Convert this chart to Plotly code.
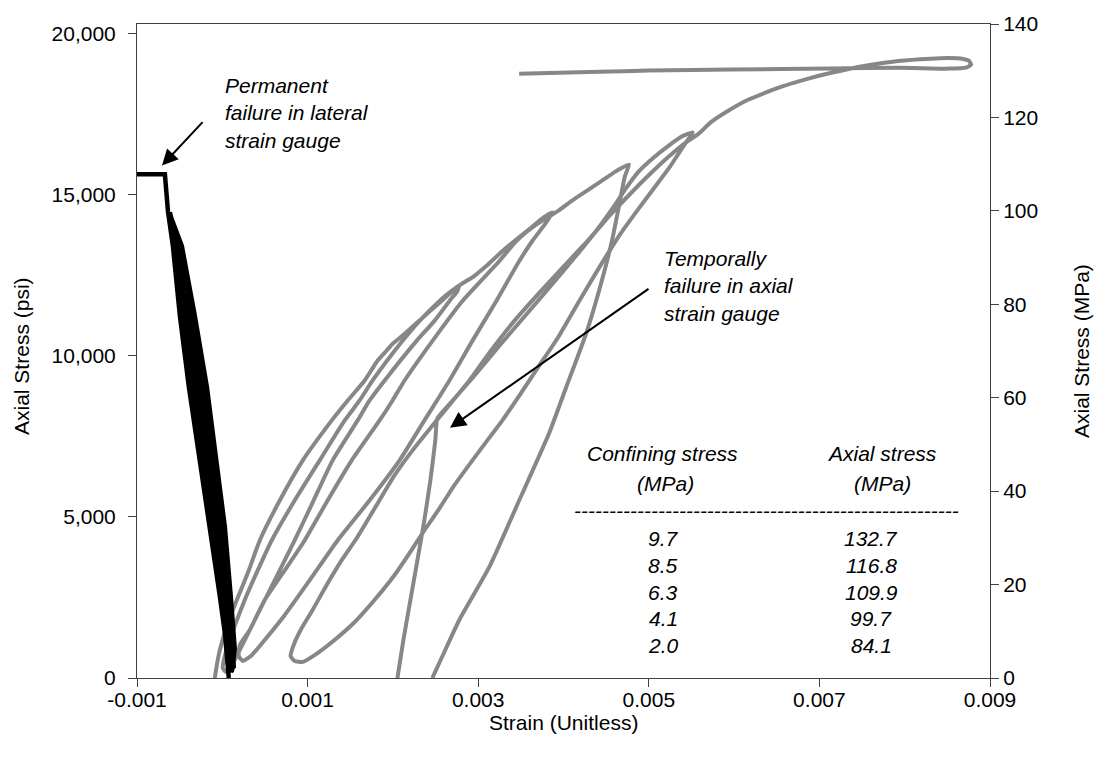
import plotly.graph_objects as go

# ---------------- data ----------------
# Axial strain (gray) : strain (unitless) vs axial stress (psi)
load1_strain = [-0.000088, -0.000064, -0.000029, 0.000076, 0.000170, 0.000310, 0.000439, 0.000673, 0.000942,
                0.001281, 0.001468, 0.001667, 0.001819, 0.001924, 0.001994, 0.002135, 0.002345, 0.002567,
                0.002696, 0.002778]
load1_stress = [0, 400, 870, 1800, 2420, 3340, 4270, 5510, 6750, 7990, 8610, 9230, 9850, 10160, 10370, 10680,
                11180, 11700, 12010, 12198]

unload1_strain = [0.002754, 0.002661, 0.002485, 0.002275, 0.001901, 0.001725, 0.001585, 0.001292, 0.001070,
                  0.000848, 0.000614, 0.000380, 0.000205, 0.000111, 0.000041]
unload1_stress = [12010, 11700, 11080, 10460, 9230, 8610, 7990, 6750, 5510, 4270, 3030, 1800, 870, 400, 190]

reload2_strain = [0.000006, 0.000018, 0.000088, 0.000263, 0.000415, 0.000579, 0.000848, 0.001140, 0.001433,
                  0.001608, 0.001760, 0.002111, 0.002310, 0.002544, 0.002684, 0.002801, 0.002953, 0.003094,
                  0.003281, 0.003421, 0.003596, 0.003737, 0.003865]
reload2_stress = [310, 560, 1180, 2420, 3340, 4270, 5510, 6750, 7990, 8610, 9230, 10460, 11080, 11700, 12010,
                  12230, 12480, 12790, 13250, 13560, 13930, 14240, 14460]

unload2_strain = [0.003807, 0.003632, 0.003480, 0.003211, 0.002930, 0.002661, 0.002368, 0.002076, 0.001725,
                  0.001351, 0.001023, 0.000731, 0.000497, 0.000345, 0.000240]
unload2_stress = [14180, 13560, 12940, 11700, 10460, 9230, 7990, 6750, 5510, 4270, 3030, 1950, 1180, 710, 530]

reload3_strain = [0.000193, 0.000205, 0.000322, 0.000497, 0.000731, 0.000965, 0.001234, 0.001515, 0.001842,
                  0.001994, 0.002135, 0.002462, 0.002813, 0.003246, 0.003444, 0.003655, 0.003830, 0.003947,
                  0.004088, 0.004263, 0.004439, 0.004614, 0.004766]
reload3_stress = [680, 1020, 1490, 2420, 3340, 4270, 5510, 6750, 7990, 8610, 9230, 10460, 11700, 12940, 13560,
                  14030, 14330, 14520, 14800, 15110, 15420, 15730, 15940]

unload3_strain = [0.004719, 0.004661, 0.004567, 0.004415, 0.004263, 0.004029, 0.003830, 0.003480, 0.003129,
                  0.002778, 0.002614, 0.002462]
unload3_stress = [15570, 14800, 13560, 12010, 10680, 9010, 7590, 5510, 3440, 1800, 870, 0]

reload4_strain = [0.002053, 0.002123, 0.002205, 0.002287, 0.002368, 0.002439, 0.002497, 0.002520, 0.002614,
                  0.002719, 0.002953, 0.003246, 0.003538, 0.003830, 0.004123, 0.004380, 0.004591, 0.004731,
                  0.004883, 0.005058, 0.005234, 0.005386, 0.005515]
reload4_stress = [0, 1180, 2420, 3650, 4890, 6130, 7370, 8050, 8360, 8670, 9380, 10310, 11210, 12110, 13030,
                  13870, 14640, 15200, 15730, 16160, 16530, 16810, 16940]

unload4_strain = [0.005444, 0.005351, 0.005234, 0.005058, 0.004883, 0.004673, 0.004450, 0.004205, 0.003947,
                  0.003713, 0.003480, 0.003281, 0.003105, 0.002930, 0.002719, 0.002544, 0.002368, 0.002193,
                  0.002018, 0.001784, 0.001550, 0.001316, 0.001082, 0.000942, 0.000848]
unload4_stress = [16660, 16290, 15820, 15200, 14580, 13810, 12880, 11800, 10620, 9690, 8760, 7990, 7370, 6750,
                  5980, 5260, 4580, 3870, 3190, 2420, 1730, 1180, 710, 500, 530]

reload5_strain = [0.000801, 0.000836, 0.000918, 0.001058, 0.001222, 0.001398, 0.001573, 0.001807, 0.002018,
                  0.002228, 0.002462, 0.002684, 0.002895, 0.003129, 0.003421, 0.003713, 0.004006, 0.004298,
                  0.004556, 0.004789, 0.005023, 0.005234, 0.005421, 0.005585, 0.005725, 0.005936, 0.006170,
                  0.006556, 0.006871, 0.007140, 0.007538, 0.007924, 0.008310, 0.008509, 0.008684, 0.008754,
                  0.008778]
reload5_stress = [680, 1020, 1490, 2110, 2880, 3650, 4330, 5360, 6290, 7060, 7830, 8550, 9230, 10090, 11080,
                  11950, 12790, 13620, 14400, 15050, 15670, 16190, 16600, 16900, 17250, 17620, 17960, 18360,
                  18610, 18790, 19010, 19160, 19230, 19246, 19220, 19160, 19040]

return_strain = [0.008719, 0.008509, 0.007924, 0.007140, 0.005971, 0.005000, 0.004415, 0.003480]
return_stress = [18950, 18920, 18950, 18920, 18890, 18860, 18820, 18760]

# Lateral strain (black)
lat_load1_strain = [0.000076, 0.000041, -0.000006, -0.000099, -0.000216, -0.000322, -0.000427, -0.000474]
lat_load1_stress = [0, 1180, 2540, 4710, 6870, 9040, 11240, 12198]
lat_unload1_strain = [-0.000380, -0.000251, -0.000135, -0.000018, 0.000076, 0.000123, 0.000135]
lat_unload1_stress = [11240, 9040, 6870, 4710, 2540, 900, 310]
lat_load2_strain = [0.000111, 0.000076, 0.000018, -0.000111, -0.000240, -0.000357, -0.000462, -0.000556,
                    -0.000614]
lat_load2_stress = [400, 1180, 2540, 4710, 6870, 9040, 11240, 13410, 14460]
lat_unload2a_strain = [-0.000532, -0.000404, -0.000287, -0.000175, -0.000058, 0.000041, 0.000088, 0.000099]
lat_unload2a_stress = [13410, 11240, 9040, 6870, 4710, 2540, 900, 190]
lat_reload2b_strain = [0.000123, 0.000123, 0.000088, 0.000006, -0.000105, -0.000216, -0.000345, -0.000497,
                       -0.000600]
lat_reload2b_stress = [310, 900, 2540, 4710, 6870, 9040, 11240, 13410, 14300]
lat_unload2_strain = [-0.000474, -0.000322, -0.000181, -0.000076, 0.000029, 0.000099, 0.000146, 0.000111]
lat_unload2_stress = [13410, 11240, 9040, 6870, 4710, 2540, 900, 190]
lat_load3_strain = [0.000088, 0.000041, -0.000029, -0.000146, -0.000275, -0.000392, -0.000497, -0.000579,
                    -0.000637, -0.000661, -0.000673, -0.001430]
lat_load3_stress = [560, 1180, 2540, 4710, 6870, 9040, 11240, 13410, 14490, 15260, 15640, 15640]

# Table of results
confining_mpa = ["9.7", "8.5", "6.3", "4.1", "2.0"]
axial_mpa = ["132.7", "116.8", "109.9", "99.7", "84.1"]

# Axis ticks
x_ticks = [-0.001, 0.001, 0.003, 0.005, 0.007, 0.009]
x_ticktext = ["-0.001", "0.001", "0.003", "0.005", "0.007", "0.009"]
psi_ticks = [0, 5000, 10000, 15000, 20000]
psi_ticktext = ["0", "5,000", "10,000", "15,000", "20,000"]
mpa_ticks = [0, 20, 40, 60, 80, 100, 120, 140]
PSI_PER_MPA = 145.038

# ---------------- build paths ----------------
gx, gy = [], []
for sx, sy in zip([load1_strain, unload1_strain, reload2_strain, unload2_strain, reload3_strain, unload3_strain],
                  [load1_stress, unload1_stress, reload2_stress, unload2_stress, reload3_stress, unload3_stress]):
    gx += sx
    gy += sy
gx.append(None)
gy.append(None)
for sx, sy in zip([reload4_strain, unload4_strain, reload5_strain, return_strain],
                  [reload4_stress, unload4_stress, reload5_stress, return_stress]):
    gx += sx
    gy += sy

bx, by = [], []
for sx, sy in zip([lat_load1_strain, lat_unload1_strain, lat_load2_strain, lat_unload2a_strain,
                   lat_reload2b_strain, lat_unload2_strain, lat_load3_strain],
                  [lat_load1_stress, lat_unload1_stress, lat_load2_stress, lat_unload2a_stress,
                   lat_reload2b_stress, lat_unload2_stress, lat_load3_stress]):
    bx += sx
    by += sy

FONT = "Liberation Sans, Arial, sans-serif"
AX = "#404040"

fig = go.Figure()
fig.add_trace(go.Scatter(x=gx, y=gy, mode="lines",
                         line=dict(color="#878787", width=4, shape="spline", smoothing=0.5),
                         connectgaps=False, hoverinfo="skip", showlegend=False))
fig.add_trace(go.Scatter(x=bx, y=by, mode="lines", line=dict(color="#000000", width=4.5),
                         hoverinfo="skip", showlegend=False))
# right axis (MPa) carrier
fig.add_trace(go.Scatter(x=[None], y=[None], yaxis="y2", mode="lines", hoverinfo="skip", showlegend=False))

W, H = 1101, 760
L, R, T, B = 137, 111, 22, 82


def px(xp, yp):
    return (xp - L) / (W - L - R), (H - B - yp) / (H - T - B)


annos = []
# Axis titles
annos.append(dict(text="Axial Stress (psi)", x=px(22, 355)[0], y=px(22, 355)[1], xref="paper", yref="paper",
                  textangle=-90, showarrow=False, font=dict(size=21, color="black", family=FONT),
                  xanchor="center", yanchor="middle"))
annos.append(dict(text="Axial Stress (MPa)", x=px(1081, 350)[0], y=px(1081, 350)[1], xref="paper", yref="paper",
                  textangle=-90, showarrow=False, font=dict(size=21, color="black", family=FONT),
                  xanchor="center", yanchor="middle"))
annos.append(dict(text="Strain (Unitless)", x=px(563, 723)[0], y=px(563, 723)[1], xref="paper", yref="paper",
                  showarrow=False, font=dict(size=21, color="black", family=FONT),
                  xanchor="center", yanchor="middle"))

# Notes
annos.append(dict(text="<i>Permanent<br>failure in lateral<br>strain gauge</i>", x=px(223, 111)[0],
                  y=px(223, 111)[1], xref="paper", yref="paper", showarrow=False, align="left",
                  xanchor="left", yanchor="middle", font=dict(size=21, color="black", family=FONT)))
annos.append(dict(text="<i>Temporally<br>failure in axial<br>strain gauge</i>", x=px(662, 285)[0],
                  y=px(662, 285)[1], xref="paper", yref="paper", showarrow=False, align="left",
                  xanchor="left", yanchor="middle", font=dict(size=21, color="black", family=FONT)))
# arrows
for tip, tail in [((162, 164), (204, 119)), ((450, 427), (650, 287))]:
    tx, ty = px(*tip)
    annos.append(dict(text="", x=tx, y=ty, xref="paper", yref="paper", showarrow=True,
                      ax=tail[0] - tip[0], ay=tail[1] - tip[1], arrowhead=2, arrowsize=1.6,
                      arrowwidth=2, arrowcolor="black", standoff=0))


# Table
def tab(text, xp, yp):
    annos.append(dict(text="<i>" + text + "</i>", x=px(xp, yp)[0], y=px(xp, yp)[1], xref="paper",
                      yref="paper", showarrow=False, xanchor="center", yanchor="middle",
                      font=dict(size=21, color="black", family=FONT)))


tab("Confining stress", 662, 453)
tab("(MPa)", 665, 483)
tab("Axial stress", 882, 453)
tab("(MPa)", 882, 483)
tab("-" * 55, 766, 510)
row_y = [538, 565, 592, 618, 645]
for c, a, yy in zip(confining_mpa, axial_mpa, row_y):
    tab(c, 663, yy)
    tab(a, 871, yy)

tickfont = dict(size=21, color="black", family=FONT)
fig.update_layout(
    width=W, height=H, margin=dict(l=L, r=R, t=T, b=B),
    paper_bgcolor="white", plot_bgcolor="white",
    font=dict(family=FONT, size=21, color="black"),
    xaxis=dict(range=[-0.001, 0.009], tickvals=x_ticks, ticktext=x_ticktext, ticks="outside", ticklen=8,
               tickcolor=AX, showline=True, linecolor=AX, linewidth=1, mirror=True, showgrid=False,
               zeroline=False, tickfont=tickfont, ticklabelstandoff=-5),
    yaxis=dict(range=[0, 140 * PSI_PER_MPA], tickvals=psi_ticks, ticktext=psi_ticktext, ticks="outside",
               ticklen=8, tickcolor=AX, showline=True, linecolor=AX, linewidth=1, showgrid=False,
               zeroline=False, tickfont=tickfont, ticklabelstandoff=8),
    yaxis2=dict(range=[0, 140], tickvals=mpa_ticks, ticks="outside", ticklen=8, tickcolor=AX,
                showline=True, linecolor=AX, linewidth=1, showgrid=False, zeroline=False,
                overlaying="y", side="right", tickfont=tickfont),
    annotations=annos,
    showlegend=False,
)

fig.write_html("out.html")
